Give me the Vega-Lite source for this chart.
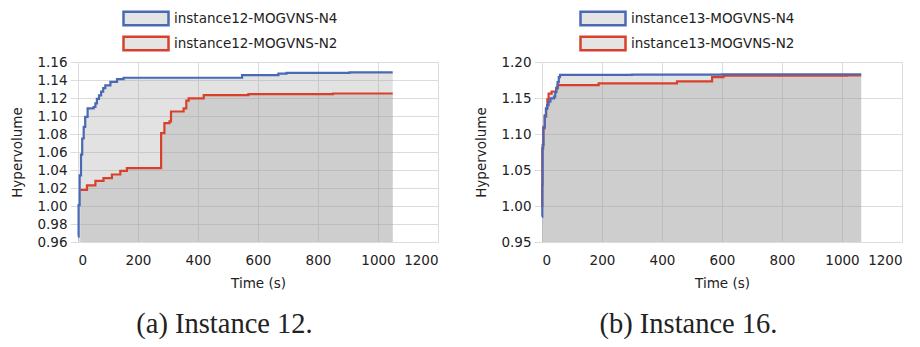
{
  "$schema": "https://vega.github.io/schema/vega-lite/v6.json",
  "padding": {"left": 10, "top": 6, "right": 5, "bottom": 5},
  "background": "white",
  "bounds": "flush",
  "spacing": 104,
  "config": {
    "font": "DejaVu Sans",
    "view": {"stroke": null},
    "axis": {
      "labelFont": "DejaVu Sans",
      "labelFontSize": 13.5,
      "labelColor": "#222222",
      "titleFont": "DejaVu Sans",
      "titleFontSize": 13.5,
      "titleFontWeight": "normal",
      "titleColor": "#222222",
      "gridColor": "#dcdcdc",
      "gridWidth": 1,
      "domain": false,
      "tickColor": "#dcdcdc",
      "tickSize": 8,
      "labelPadding": 3
    },
    "axisX": {"ticks": false, "labelPadding": 11},
    "legend": {
      "labelFont": "DejaVu Sans",
      "labelFontSize": 13.5,
      "labelColor": "#222222",
      "labelLimit": 400,
      "symbolType": "M-1,-0.3H1V0.3H-1Z",
      "symbolSize": 2025,
      "symbolFillColor": "#e4e4e4",
      "symbolStrokeWidth": 2.5,
      "symbolOpacity": 1,
      "clipHeight": 25,
      "rowPadding": 0,
      "labelOffset": 4,
      "padding": 0
    }
  },
  "resolve": {"scale": {"stroke": "independent", "x": "independent", "y": "independent"}, "legend": {"stroke": "independent"}},
  "datasets": {
    "a": [
      {"t": 0, "v": 0.966, "s": "instance12-MOGVNS-N4"},
      {"t": 2, "v": 1.001, "s": "instance12-MOGVNS-N4"},
      {"t": 5.5, "v": 1.034, "s": "instance12-MOGVNS-N4"},
      {"t": 10, "v": 1.057, "s": "instance12-MOGVNS-N4"},
      {"t": 14, "v": 1.075, "s": "instance12-MOGVNS-N4"},
      {"t": 19, "v": 1.088, "s": "instance12-MOGVNS-N4"},
      {"t": 24, "v": 1.099, "s": "instance12-MOGVNS-N4"},
      {"t": 32, "v": 1.1085, "s": "instance12-MOGVNS-N4"},
      {"t": 52, "v": 1.11, "s": "instance12-MOGVNS-N4"},
      {"t": 58, "v": 1.114, "s": "instance12-MOGVNS-N4"},
      {"t": 63, "v": 1.119, "s": "instance12-MOGVNS-N4"},
      {"t": 70, "v": 1.123, "s": "instance12-MOGVNS-N4"},
      {"t": 77, "v": 1.127, "s": "instance12-MOGVNS-N4"},
      {"t": 84, "v": 1.131, "s": "instance12-MOGVNS-N4"},
      {"t": 91, "v": 1.134, "s": "instance12-MOGVNS-N4"},
      {"t": 108, "v": 1.138, "s": "instance12-MOGVNS-N4"},
      {"t": 130, "v": 1.141, "s": "instance12-MOGVNS-N4"},
      {"t": 152, "v": 1.1425, "s": "instance12-MOGVNS-N4"},
      {"t": 547, "v": 1.1455, "s": "instance12-MOGVNS-N4"},
      {"t": 668, "v": 1.147, "s": "instance12-MOGVNS-N4"},
      {"t": 695, "v": 1.148, "s": "instance12-MOGVNS-N4"},
      {"t": 905, "v": 1.1485, "s": "instance12-MOGVNS-N4"},
      {"t": 1049, "v": 1.1485, "s": "instance12-MOGVNS-N4"},
      {"t": 8, "v": 1.018, "s": "instance12-MOGVNS-N2"},
      {"t": 30, "v": 1.023, "s": "instance12-MOGVNS-N2"},
      {"t": 58, "v": 1.028, "s": "instance12-MOGVNS-N2"},
      {"t": 85, "v": 1.031, "s": "instance12-MOGVNS-N2"},
      {"t": 113, "v": 1.035, "s": "instance12-MOGVNS-N2"},
      {"t": 141, "v": 1.039, "s": "instance12-MOGVNS-N2"},
      {"t": 163, "v": 1.042, "s": "instance12-MOGVNS-N2"},
      {"t": 277, "v": 1.081, "s": "instance12-MOGVNS-N2"},
      {"t": 288, "v": 1.092, "s": "instance12-MOGVNS-N2"},
      {"t": 305, "v": 1.094, "s": "instance12-MOGVNS-N2"},
      {"t": 310, "v": 1.105, "s": "instance12-MOGVNS-N2"},
      {"t": 352, "v": 1.1085, "s": "instance12-MOGVNS-N2"},
      {"t": 361, "v": 1.117, "s": "instance12-MOGVNS-N2"},
      {"t": 369, "v": 1.1196, "s": "instance12-MOGVNS-N2"},
      {"t": 419, "v": 1.1233, "s": "instance12-MOGVNS-N2"},
      {"t": 568, "v": 1.1244, "s": "instance12-MOGVNS-N2"},
      {"t": 850, "v": 1.125, "s": "instance12-MOGVNS-N2"},
      {"t": 1049, "v": 1.125, "s": "instance12-MOGVNS-N2"}
    ],
    "b": [
      {"t": 0, "v": 0.985, "s": "instance13-MOGVNS-N4"},
      {"t": 1, "v": 1.03, "s": "instance13-MOGVNS-N4"},
      {"t": 2, "v": 1.085, "s": "instance13-MOGVNS-N4"},
      {"t": 5, "v": 1.11, "s": "instance13-MOGVNS-N4"},
      {"t": 9, "v": 1.126, "s": "instance13-MOGVNS-N4"},
      {"t": 13, "v": 1.135, "s": "instance13-MOGVNS-N4"},
      {"t": 17, "v": 1.14, "s": "instance13-MOGVNS-N4"},
      {"t": 22, "v": 1.145, "s": "instance13-MOGVNS-N4"},
      {"t": 28, "v": 1.1495, "s": "instance13-MOGVNS-N4"},
      {"t": 40, "v": 1.152, "s": "instance13-MOGVNS-N4"},
      {"t": 44, "v": 1.158, "s": "instance13-MOGVNS-N4"},
      {"t": 48, "v": 1.1635, "s": "instance13-MOGVNS-N4"},
      {"t": 52, "v": 1.172, "s": "instance13-MOGVNS-N4"},
      {"t": 56, "v": 1.179, "s": "instance13-MOGVNS-N4"},
      {"t": 60, "v": 1.182, "s": "instance13-MOGVNS-N4"},
      {"t": 300, "v": 1.1825, "s": "instance13-MOGVNS-N4"},
      {"t": 600, "v": 1.183, "s": "instance13-MOGVNS-N4"},
      {"t": 1064, "v": 1.183, "s": "instance13-MOGVNS-N4"},
      {"t": 0, "v": 1.0, "s": "instance13-MOGVNS-N2"},
      {"t": 1, "v": 1.08, "s": "instance13-MOGVNS-N2"},
      {"t": 4, "v": 1.108, "s": "instance13-MOGVNS-N2"},
      {"t": 9, "v": 1.124, "s": "instance13-MOGVNS-N2"},
      {"t": 14, "v": 1.136, "s": "instance13-MOGVNS-N2"},
      {"t": 18, "v": 1.148, "s": "instance13-MOGVNS-N2"},
      {"t": 22, "v": 1.156, "s": "instance13-MOGVNS-N2"},
      {"t": 32, "v": 1.159, "s": "instance13-MOGVNS-N2"},
      {"t": 47, "v": 1.164, "s": "instance13-MOGVNS-N2"},
      {"t": 52, "v": 1.168, "s": "instance13-MOGVNS-N2"},
      {"t": 189, "v": 1.1704, "s": "instance13-MOGVNS-N2"},
      {"t": 450, "v": 1.173, "s": "instance13-MOGVNS-N2"},
      {"t": 567, "v": 1.179, "s": "instance13-MOGVNS-N2"},
      {"t": 605, "v": 1.181, "s": "instance13-MOGVNS-N2"},
      {"t": 1017, "v": 1.1815, "s": "instance13-MOGVNS-N2"},
      {"t": 1064, "v": 1.1815, "s": "instance13-MOGVNS-N2"}
    ]
  },
  "hconcat": [
    {
      "width": 360,
      "height": 180,
      "data": {"name": "a"},
      "title": {"text": "(a) Instance 12.", "orient": "bottom", "font": "Liberation Serif", "fontSize": 28.5, "fontWeight": "normal", "color": "#222222", "offset": 20, "anchor": "middle", "frame": "bounds"},
      "encoding": {
        "x": {"field": "t", "type": "quantitative", "title": "Time (s)", "scale": {"domain": [0, 1200], "nice": false}, "axis": {"values": [0, 200, 400, 600, 800, 1000, 1200], "format": "d", "titlePadding": 10}},
        "y": {"field": "v", "type": "quantitative", "title": "Hypervolume", "scale": {"domain": [0.96, 1.16], "nice": false, "zero": false}, "axis": {"values": [0.96, 0.98, 1.0, 1.02, 1.04, 1.06, 1.08, 1.1, 1.12, 1.14, 1.16], "format": ".2f", "titlePadding": 12}}
      },
      "layer": [
        {
          "mark": {"type": "area", "interpolate": "step-after", "fill": "#a0a0a0", "fillOpacity": 0.3},
          "encoding": {"detail": {"field": "s"}, "y2": {"datum": 0.96}}
        },
        {
          "transform": [{"filter": "datum.s == 'instance12-MOGVNS-N2'"}],
          "mark": {"type": "line", "interpolate": "step-after", "strokeWidth": 2.2},
          "encoding": {"stroke": {"field": "s", "type": "nominal", "scale": {"domain": ["instance12-MOGVNS-N4", "instance12-MOGVNS-N2"], "range": ["#4a69b5", "#d9402b"]}, "legend": {"title": null, "orient": "none", "legendX": 44, "legendY": -56, "direction": "vertical"}}}
        },
        {
          "transform": [{"filter": "datum.s == 'instance12-MOGVNS-N4'"}],
          "mark": {"type": "line", "interpolate": "step-after", "strokeWidth": 2.2},
          "encoding": {"stroke": {"field": "s", "type": "nominal", "scale": {"domain": ["instance12-MOGVNS-N4", "instance12-MOGVNS-N2"], "range": ["#4a69b5", "#d9402b"]}, "legend": {"title": null, "orient": "none", "legendX": 44, "legendY": -56, "direction": "vertical"}}}
        }
      ]
    },
    {
      "width": 360,
      "height": 180,
      "data": {"name": "b"},
      "title": {"text": "(b) Instance 16.", "orient": "bottom", "font": "Liberation Serif", "fontSize": 28.5, "fontWeight": "normal", "color": "#222222", "offset": 20, "anchor": "middle", "frame": "bounds"},
      "encoding": {
        "x": {"field": "t", "type": "quantitative", "title": "Time (s)", "scale": {"domain": [0, 1200], "nice": false}, "axis": {"values": [0, 200, 400, 600, 800, 1000, 1200], "format": "d", "titlePadding": 10}},
        "y": {"field": "v", "type": "quantitative", "title": "Hypervolume", "scale": {"domain": [0.95, 1.2], "nice": false, "zero": false}, "axis": {"values": [0.95, 1.0, 1.05, 1.1, 1.15, 1.2], "format": ".2f", "titlePadding": 12}}
      },
      "layer": [
        {
          "mark": {"type": "area", "interpolate": "step-after", "fill": "#a0a0a0", "fillOpacity": 0.3},
          "encoding": {"detail": {"field": "s"}, "y2": {"datum": 0.95}}
        },
        {
          "transform": [{"filter": "datum.s == 'instance13-MOGVNS-N2'"}],
          "mark": {"type": "line", "interpolate": "step-after", "strokeWidth": 2.2},
          "encoding": {"stroke": {"field": "s", "type": "nominal", "scale": {"domain": ["instance13-MOGVNS-N4", "instance13-MOGVNS-N2"], "range": ["#4a69b5", "#d9402b"]}, "legend": {"title": null, "orient": "none", "legendX": 37, "legendY": -56, "direction": "vertical"}}}
        },
        {
          "transform": [{"filter": "datum.s == 'instance13-MOGVNS-N4'"}],
          "mark": {"type": "line", "interpolate": "step-after", "strokeWidth": 2.2},
          "encoding": {"stroke": {"field": "s", "type": "nominal", "scale": {"domain": ["instance13-MOGVNS-N4", "instance13-MOGVNS-N2"], "range": ["#4a69b5", "#d9402b"]}, "legend": {"title": null, "orient": "none", "legendX": 37, "legendY": -56, "direction": "vertical"}}}
        }
      ]
    }
  ]
}
